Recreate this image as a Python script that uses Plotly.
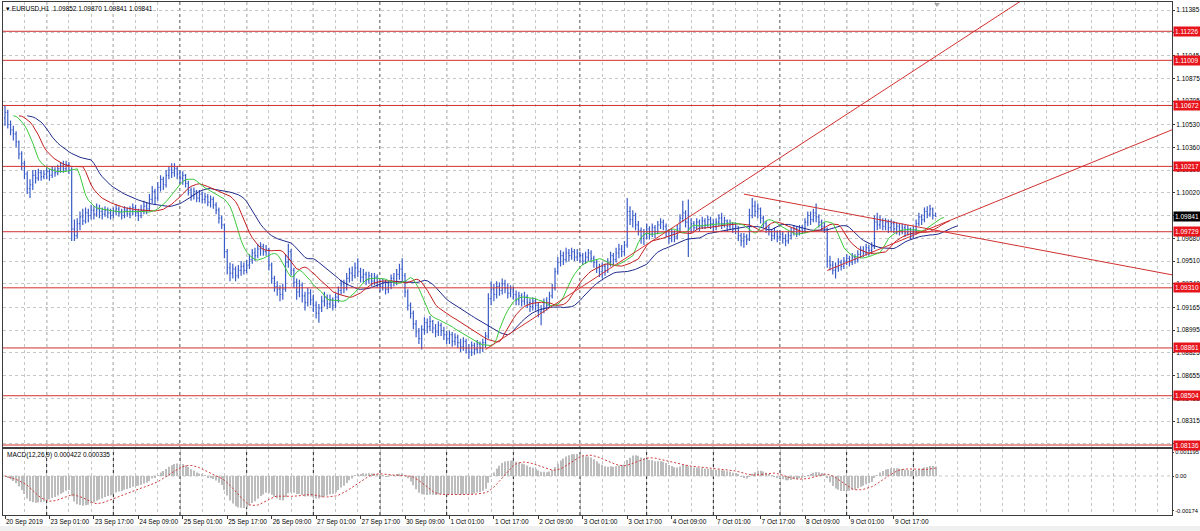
import numpy as np
import pandas as pd
import plotly.graph_objects as go

# ---------------- data (EURUSD H1) ----------------
start_time = "2019-09-20 09:00"

opens = [
    1.1058, 1.1062, 1.1053, 1.1049, 1.1046, 1.1040, 1.1031, 1.1024, 1.1016, 1.1005, 1.1008, 1.1015, 1.1013, 1.1017, 1.1014,
    1.1016, 1.1018, 1.1015, 1.1019, 1.1017, 1.1020, 1.1022, 1.1020, 1.1023, 1.1019, 1.0975, 1.0970, 1.0979, 1.0984, 1.0981, 1.0987, 1.0985, 1.0989, 1.0986, 1.0990, 1.0988, 1.0986, 1.0989, 1.0987,
    1.0985, 1.0988, 1.0990, 1.0987, 1.0985, 1.0989, 1.0986, 1.0988, 1.0991, 1.0987, 1.0985, 1.0989, 1.0992, 1.0990, 1.0997, 1.1003, 1.0998, 1.1006, 1.1012, 1.1008, 1.1015, 1.1019, 1.1017, 1.1020,
    1.1016, 1.1013, 1.1015, 1.1009, 1.1004, 1.1000, 1.1003, 1.0998, 1.1001, 1.0997, 1.0999, 1.0995, 1.0997, 1.0993, 1.0989, 1.0983, 1.0978, 1.0958, 1.0946, 1.0942, 1.0945, 1.0940, 1.0944, 1.0947,
    1.0944, 1.0948, 1.0952, 1.0957, 1.0955, 1.0960, 1.0962, 1.0958, 1.0960, 1.0948, 1.0938, 1.0932, 1.0930, 1.0926, 1.0930, 1.0950, 1.0958, 1.0944, 1.0935, 1.0928, 1.0933, 1.0925, 1.0920, 1.0927,
    1.0922, 1.0918, 1.0912, 1.0916, 1.0921, 1.0924, 1.0919, 1.0922, 1.0918, 1.0924, 1.0929, 1.0934, 1.0931, 1.0938, 1.0942, 1.0940, 1.0946, 1.0943, 1.0939, 1.0941, 1.0937, 1.0940, 1.0936, 1.0939,
    1.0935, 1.0932, 1.0935, 1.0930, 1.0933, 1.0938, 1.0936, 1.0941, 1.0945, 1.0940, 1.0928, 1.0918, 1.0912, 1.0904, 1.0898, 1.0893, 1.0900, 1.0905, 1.0902, 1.0906, 1.0901, 1.0898, 1.0903, 1.0899,
    1.0896, 1.0893, 1.0896, 1.0891, 1.0894, 1.0890, 1.0887, 1.0891, 1.0886, 1.0883, 1.0888, 1.0885, 1.0889, 1.0886, 1.0890, 1.0895, 1.0923, 1.0930, 1.0926, 1.0932, 1.0929, 1.0934, 1.0931, 1.0927,
    1.0930, 1.0926, 1.0922, 1.0925, 1.0921, 1.0924, 1.0920, 1.0917, 1.0921, 1.0918, 1.0913, 1.0915, 1.0920, 1.0918, 1.0925, 1.0931, 1.0943, 1.0950, 1.0955, 1.0952, 1.0957, 1.0955, 1.0958, 1.0954,
    1.0957, 1.0955, 1.0951, 1.0954, 1.0957, 1.0953, 1.0950, 1.0946, 1.0943, 1.0947, 1.0944, 1.0950, 1.0955, 1.0952, 1.0957, 1.0960, 1.0958, 1.0963, 1.0988, 1.0982, 1.0985, 1.0978, 1.0974, 1.0968,
    1.0971, 1.0975, 1.0971, 1.0976, 1.0973, 1.0978, 1.0980, 1.0977, 1.0973, 1.0968, 1.0972, 1.0969, 1.0975, 1.0983, 1.0987, 1.0980, 1.0976, 1.0979, 1.0976, 1.0980, 1.0977, 1.0981, 1.0978, 1.0982,
    1.0979, 1.0977, 1.0980, 1.0983, 1.0979, 1.0981, 1.0977, 1.0979, 1.0975, 1.0977, 1.0970, 1.0966, 1.0969, 1.0967, 1.0985, 1.0992, 1.0988, 1.0990, 1.0983, 1.0979, 1.0976, 1.0973, 1.0970, 1.0973,
    1.0969, 1.0971, 1.0968, 1.0966, 1.0970, 1.0973, 1.0975, 1.0972, 1.0976, 1.0974, 1.0980, 1.0985, 1.0982, 1.0987, 1.0984, 1.0980, 1.0977, 1.0975, 1.0951, 1.0948, 1.0944, 1.0946, 1.0950, 1.0947,
    1.0951, 1.0953, 1.0950, 1.0954, 1.0952, 1.0956, 1.0959, 1.0957, 1.0961, 1.0959, 1.0962, 1.0980, 1.0978, 1.0981, 1.0977, 1.0980, 1.0976, 1.0979, 1.0975, 1.0977, 1.0973, 1.0976, 1.0972, 1.0975,
    1.0971, 1.0974, 1.0979, 1.0984, 1.0982, 1.0988, 1.0986, 1.0990, 1.09852,
]
highs = [
    1.1067, 1.1064, 1.1056, 1.1052, 1.1048, 1.1041, 1.1033, 1.1026, 1.1018, 1.1012, 1.1019, 1.1019, 1.1020, 1.1019, 1.1019,
    1.1021, 1.1020, 1.1022, 1.1021, 1.1023, 1.1025, 1.1026, 1.1026, 1.1025, 1.1021, 1.0982, 1.0983, 1.0988, 1.0990, 1.0991, 1.0990, 1.0993, 1.0992, 1.0994, 1.0993, 1.0991, 1.0992, 1.0991, 1.0990,
    1.0991, 1.0993, 1.0992, 1.0990, 1.0992, 1.0991, 1.0992, 1.0994, 1.0993, 1.0990, 1.0993, 1.0996, 1.0995, 1.1001, 1.1007, 1.1005, 1.1010, 1.1015, 1.1014, 1.1019, 1.1022, 1.1024, 1.1024, 1.1022,
    1.1019, 1.1018, 1.1016, 1.1011, 1.1006, 1.1006, 1.1004, 1.1004, 1.1003, 1.1002, 1.1001, 1.1000, 1.0999, 1.0995, 1.0991, 1.0985, 1.0979, 1.0960, 1.0950, 1.0949, 1.0947, 1.0948, 1.0951, 1.0950,
    1.0952, 1.0956, 1.0960, 1.0961, 1.0964, 1.0965, 1.0964, 1.0963, 1.0961, 1.0950, 1.0940, 1.0936, 1.0933, 1.0934, 1.0956, 1.0964, 1.0960, 1.0946, 1.0938, 1.0937, 1.0935, 1.0928, 1.0931, 1.0930,
    1.0926, 1.0921, 1.0919, 1.0925, 1.0928, 1.0926, 1.0926, 1.0924, 1.0927, 1.0932, 1.0937, 1.0937, 1.0942, 1.0946, 1.0947, 1.0950, 1.0953, 1.0946, 1.0945, 1.0943, 1.0943, 1.0942, 1.0942, 1.0941,
    1.0937, 1.0938, 1.0937, 1.0936, 1.0941, 1.0942, 1.0945, 1.0949, 1.0953, 1.0942, 1.0930, 1.0920, 1.0914, 1.0907, 1.0901, 1.0903, 1.0909, 1.0908, 1.0910, 1.0907, 1.0904, 1.0906, 1.0905, 1.0902,
    1.0899, 1.0899, 1.0898, 1.0897, 1.0896, 1.0893, 1.0894, 1.0893, 1.0889, 1.0891, 1.0890, 1.0892, 1.0891, 1.0893, 1.0898, 1.0927, 1.0936, 1.0934, 1.0936, 1.0935, 1.0938, 1.0937, 1.0934, 1.0933,
    1.0932, 1.0929, 1.0928, 1.0927, 1.0928, 1.0926, 1.0923, 1.0924, 1.0923, 1.0920, 1.0918, 1.0923, 1.0924, 1.0928, 1.0934, 1.0946, 1.0954, 1.0959, 1.0958, 1.0961, 1.0960, 1.0961, 1.0960, 1.0960,
    1.0958, 1.0957, 1.0958, 1.0960, 1.0959, 1.0955, 1.0952, 1.0949, 1.0950, 1.0949, 1.0953, 1.0958, 1.0957, 1.0961, 1.0964, 1.0963, 1.0966, 1.0998, 1.0992, 1.0989, 1.0987, 1.0981, 1.0976, 1.0975,
    1.0979, 1.0977, 1.0979, 1.0978, 1.0981, 1.0983, 1.0982, 1.0979, 1.0975, 1.0975, 1.0974, 1.0978, 1.0986, 1.0996, 1.0989, 1.0997, 1.0983, 1.0981, 1.0983, 1.0982, 1.0984, 1.0983, 1.0985, 1.0984,
    1.0982, 1.0983, 1.0986, 1.0987, 1.0984, 1.0982, 1.0982, 1.0980, 1.0980, 1.0977, 1.0972, 1.0972, 1.0971, 1.0990, 1.0998, 1.0996, 1.0994, 1.0991, 1.0985, 1.0981, 1.0978, 1.0975, 1.0976, 1.0974,
    1.0974, 1.0973, 1.0971, 1.0973, 1.0976, 1.0978, 1.0977, 1.0978, 1.0978, 1.0983, 1.0988, 1.0988, 1.0990, 1.0994, 1.0986, 1.0982, 1.0980, 1.0976, 1.0955, 1.0951, 1.0950, 1.0953, 1.0952, 1.0954,
    1.0956, 1.0955, 1.0957, 1.0956, 1.0959, 1.0962, 1.0962, 1.0964, 1.0963, 1.0965, 1.0985, 1.0987, 1.0985, 1.0983, 1.0983, 1.0982, 1.0982, 1.0981, 1.0980, 1.0979, 1.0979, 1.0978, 1.0978, 1.0976,
    1.0977, 1.0982, 1.0987, 1.0986, 1.0991, 1.0992, 1.0993, 1.0991, 1.09870,
]
lows = [
    1.1052, 1.1050, 1.1045, 1.1041, 1.1036, 1.1027, 1.1019, 1.1012, 1.1001, 1.0998, 1.1004, 1.1009, 1.1011, 1.1011, 1.1012,
    1.1012, 1.1011, 1.1013, 1.1014, 1.1015, 1.1017, 1.1017, 1.1018, 1.1016, 1.0966, 1.0966, 1.0968, 1.0974, 1.0978, 1.0979, 1.0980, 1.0982, 1.0982, 1.0984, 1.0983, 1.0982, 1.0984, 1.0983, 1.0982,
    1.0983, 1.0985, 1.0984, 1.0982, 1.0983, 1.0984, 1.0983, 1.0985, 1.0984, 1.0981, 1.0983, 1.0986, 1.0986, 1.0988, 1.0994, 1.0993, 1.0996, 1.1003, 1.1004, 1.1006, 1.1012, 1.1013, 1.1014, 1.1012,
    1.1009, 1.1008, 1.1006, 1.1000, 1.0996, 1.0997, 1.0995, 1.0995, 1.0994, 1.0994, 1.0992, 1.0991, 1.0990, 1.0986, 1.0979, 1.0975, 1.0953, 1.0941, 1.0936, 1.0938, 1.0936, 1.0938, 1.0940, 1.0941,
    1.0942, 1.0945, 1.0949, 1.0951, 1.0953, 1.0955, 1.0955, 1.0955, 1.0944, 1.0934, 1.0928, 1.0925, 1.0921, 1.0922, 1.0928, 1.0946, 1.0940, 1.0931, 1.0922, 1.0924, 1.0920, 1.0914, 1.0917, 1.0918,
    1.0913, 1.0908, 1.0905, 1.0913, 1.0917, 1.0915, 1.0916, 1.0914, 1.0916, 1.0920, 1.0926, 1.0927, 1.0929, 1.0935, 1.0936, 1.0938, 1.0939, 1.0935, 1.0935, 1.0933, 1.0934, 1.0932, 1.0933, 1.0931,
    1.0928, 1.0929, 1.0926, 1.0927, 1.0930, 1.0932, 1.0933, 1.0937, 1.0936, 1.0924, 1.0914, 1.0908, 1.0900, 1.0894, 1.0889, 1.0885, 1.0896, 1.0897, 1.0899, 1.0897, 1.0894, 1.0895, 1.0895, 1.0892,
    1.0889, 1.0889, 1.0887, 1.0888, 1.0886, 1.0883, 1.0884, 1.0882, 1.0878, 1.0880, 1.0881, 1.0882, 1.0882, 1.0883, 1.0886, 1.0893, 1.0918, 1.0921, 1.0923, 1.0925, 1.0926, 1.0927, 1.0923, 1.0924,
    1.0922, 1.0918, 1.0918, 1.0917, 1.0918, 1.0916, 1.0913, 1.0914, 1.0914, 1.0909, 1.0903, 1.0912, 1.0914, 1.0916, 1.0923, 1.0929, 1.0941, 1.0947, 1.0948, 1.0950, 1.0951, 1.0952, 1.0951, 1.0951,
    1.0950, 1.0948, 1.0949, 1.0951, 1.0950, 1.0946, 1.0942, 1.0939, 1.0938, 1.0940, 1.0942, 1.0947, 1.0948, 1.0950, 1.0953, 1.0954, 1.0955, 1.0961, 1.0978, 1.0976, 1.0974, 1.0970, 1.0964, 1.0963,
    1.0967, 1.0967, 1.0969, 1.0968, 1.0971, 1.0975, 1.0974, 1.0969, 1.0964, 1.0965, 1.0965, 1.0967, 1.0973, 1.0980, 1.0976, 1.0954, 1.0972, 1.0973, 1.0974, 1.0973, 1.0975, 1.0975, 1.0976, 1.0975,
    1.0973, 1.0974, 1.0977, 1.0975, 1.0976, 1.0973, 1.0974, 1.0972, 1.0971, 1.0966, 1.0962, 1.0961, 1.0963, 1.0966, 1.0983, 1.0984, 1.0983, 1.0979, 1.0976, 1.0972, 1.0970, 1.0966, 1.0967, 1.0965,
    1.0966, 1.0964, 1.0962, 1.0964, 1.0967, 1.0970, 1.0969, 1.0970, 1.0971, 1.0972, 1.0977, 1.0978, 1.0980, 1.0980, 1.0976, 1.0974, 1.0972, 1.0946, 1.0944, 1.0941, 1.0938, 1.0943, 1.0944, 1.0945,
    1.0948, 1.0947, 1.0948, 1.0949, 1.0950, 1.0953, 1.0954, 1.0955, 1.0955, 1.0956, 1.0960, 1.0974, 1.0975, 1.0974, 1.0974, 1.0972, 1.0973, 1.0972, 1.0971, 1.0970, 1.0971, 1.0969, 1.0970, 1.0967,
    1.0968, 1.0971, 1.0977, 1.0978, 1.0980, 1.0983, 1.0984, 1.0982, 1.09841,
]
closes = [
    1.1062, 1.1053, 1.1049, 1.1046, 1.1040, 1.1031, 1.1024, 1.1016, 1.1005, 1.1008, 1.1015, 1.1013, 1.1017, 1.1014, 1.1016,
    1.1018, 1.1015, 1.1019, 1.1017, 1.1020, 1.1022, 1.1020, 1.1023, 1.1019, 1.0975, 1.0970, 1.0979, 1.0984, 1.0981, 1.0987, 1.0985, 1.0989, 1.0986, 1.0990, 1.0988, 1.0986, 1.0989, 1.0987, 1.0985,
    1.0988, 1.0990, 1.0987, 1.0985, 1.0989, 1.0986, 1.0988, 1.0991, 1.0987, 1.0985, 1.0989, 1.0992, 1.0990, 1.0997, 1.1003, 1.0998, 1.1006, 1.1012, 1.1008, 1.1015, 1.1019, 1.1017, 1.1020, 1.1016,
    1.1013, 1.1015, 1.1009, 1.1004, 1.1000, 1.1003, 1.0998, 1.1001, 1.0997, 1.0999, 1.0995, 1.0997, 1.0993, 1.0989, 1.0983, 1.0978, 1.0958, 1.0946, 1.0942, 1.0945, 1.0940, 1.0944, 1.0947, 1.0944,
    1.0948, 1.0952, 1.0957, 1.0955, 1.0960, 1.0962, 1.0958, 1.0960, 1.0948, 1.0938, 1.0932, 1.0930, 1.0926, 1.0930, 1.0950, 1.0958, 1.0944, 1.0935, 1.0928, 1.0933, 1.0925, 1.0920, 1.0927, 1.0922,
    1.0918, 1.0912, 1.0916, 1.0921, 1.0924, 1.0919, 1.0922, 1.0918, 1.0924, 1.0929, 1.0934, 1.0931, 1.0938, 1.0942, 1.0940, 1.0946, 1.0943, 1.0939, 1.0941, 1.0937, 1.0940, 1.0936, 1.0939, 1.0935,
    1.0932, 1.0935, 1.0930, 1.0933, 1.0938, 1.0936, 1.0941, 1.0945, 1.0940, 1.0928, 1.0918, 1.0912, 1.0904, 1.0898, 1.0893, 1.0900, 1.0905, 1.0902, 1.0906, 1.0901, 1.0898, 1.0903, 1.0899, 1.0896,
    1.0893, 1.0896, 1.0891, 1.0894, 1.0890, 1.0887, 1.0891, 1.0886, 1.0883, 1.0888, 1.0885, 1.0889, 1.0886, 1.0890, 1.0895, 1.0923, 1.0930, 1.0926, 1.0932, 1.0929, 1.0934, 1.0931, 1.0927, 1.0930,
    1.0926, 1.0922, 1.0925, 1.0921, 1.0924, 1.0920, 1.0917, 1.0921, 1.0918, 1.0913, 1.0915, 1.0920, 1.0918, 1.0925, 1.0931, 1.0943, 1.0950, 1.0955, 1.0952, 1.0957, 1.0955, 1.0958, 1.0954, 1.0957,
    1.0955, 1.0951, 1.0954, 1.0957, 1.0953, 1.0950, 1.0946, 1.0943, 1.0947, 1.0944, 1.0950, 1.0955, 1.0952, 1.0957, 1.0960, 1.0958, 1.0963, 1.0988, 1.0982, 1.0985, 1.0978, 1.0974, 1.0968, 1.0971,
    1.0975, 1.0971, 1.0976, 1.0973, 1.0978, 1.0980, 1.0977, 1.0973, 1.0968, 1.0972, 1.0969, 1.0975, 1.0983, 1.0987, 1.0980, 1.0976, 1.0979, 1.0976, 1.0980, 1.0977, 1.0981, 1.0978, 1.0982, 1.0979,
    1.0977, 1.0980, 1.0983, 1.0979, 1.0981, 1.0977, 1.0979, 1.0975, 1.0977, 1.0970, 1.0966, 1.0969, 1.0967, 1.0985, 1.0992, 1.0988, 1.0990, 1.0983, 1.0979, 1.0976, 1.0973, 1.0970, 1.0973, 1.0969,
    1.0971, 1.0968, 1.0966, 1.0970, 1.0973, 1.0975, 1.0972, 1.0976, 1.0974, 1.0980, 1.0985, 1.0982, 1.0987, 1.0984, 1.0980, 1.0977, 1.0975, 1.0951, 1.0948, 1.0944, 1.0946, 1.0950, 1.0947, 1.0951,
    1.0953, 1.0950, 1.0954, 1.0952, 1.0956, 1.0959, 1.0957, 1.0961, 1.0959, 1.0962, 1.0980, 1.0978, 1.0981, 1.0977, 1.0980, 1.0976, 1.0979, 1.0975, 1.0977, 1.0973, 1.0976, 1.0972, 1.0975, 1.0971,
    1.0974, 1.0979, 1.0984, 1.0982, 1.0988, 1.0986, 1.0990, 1.09852, 1.09841,
]
assert len(opens) == len(highs) == len(lows) == len(closes), (len(opens), len(highs), len(lows), len(closes))

price_ticks = [1.11385, 1.11215, 1.11045, 1.10875, 1.10705, 1.10530, 1.10360, 1.10190, 1.10020, 1.09850,
               1.09680, 1.09510, 1.09340, 1.09165, 1.08995, 1.08825, 1.08655, 1.08485, 1.08315, 1.08145]
levels = [1.11226, 1.11009, 1.10672, 1.10217, 1.09729, 1.09310, 1.08861, 1.08504, 1.08136]
last_price = 1.09841
# trend lines: (bar index, price) of two anchor points; drawn as rays to the right
trend_lines = [
    (173, 1.0885, 270, 1.1016),
    (296, 1.0944, 335, 1.0977),
    (266, 1.1001, 335, 1.0974),
]
macd_tickvals = [0.001195, 0.0, -0.00174]
macd_ticktext = ["0.001195", "0.00", "-0.00174"]
title_text = "\u25be EURUSD,H1  1.09852 1.09870 1.09841 1.09841"
macd_text = "MACD(12,26,9) 0.000422 0.000335"

# ---------------- derived series ----------------
n = len(closes)
idx = np.arange(n)
hrs = pd.date_range(start_time, periods=24 * 30, freq="h")
times = hrs[hrs.weekday < 5][:n]
label_idx = list(range(0, n, 16))
label_txt = [(f"{times[i].day} {times[i].strftime('%b %Y')}" if i == 0 else f"{times[i].day} {times[i].strftime('%b %H:%M')}") for i in label_idx]
sep_idx = [int(i) for i in idx if times[i].hour == 0]

H_ = np.array(highs); L_ = np.array(lows)
median = (H_ + L_) / 2


def smma(src, p):
    out = np.empty_like(src)
    out[0] = src[0]
    for k in range(1, len(src)):
        out[k] = (out[k - 1] * (p - 1) + src[k]) / p
    return out


jaw = smma(median, 13); teeth = smma(median, 8); lips = smma(median, 5)
cs = pd.Series(closes)
macd = cs.ewm(span=12, adjust=False).mean() - cs.ewm(span=26, adjust=False).mean()
signal = macd.rolling(9, min_periods=1).mean()

# ---------------- layout geometry (pixels) ----------------
W, Hh = 1200, 531
BAR_PX = 66.667 / 24.0
X0_PX = 5.0
PLOT_L, PLOT_R = 3, 1172
MAIN_T, MAIN_B = 2, 447
MACD_T, MACD_B = 449, 515
PPU = 13389.0  # pixels per price unit
REF_P, REF_Y = 1.11385, 10.0
MACD_ZERO_Y, MACD_PPU = 476.0, 1.0 / 0.0000498


def fx(px):
    return px / W


def fy(py):
    return 1 - py / Hh


x_range = [(PLOT_L - X0_PX) / BAR_PX, (PLOT_R - X0_PX) / BAR_PX]
y_range = [REF_P - (MAIN_B - REF_Y) / PPU, REF_P + (REF_Y - MAIN_T) / PPU]
y2_range = [-(MACD_B - MACD_ZERO_Y) / MACD_PPU, (MACD_ZERO_Y - MACD_T) / MACD_PPU]
grid_idx = list(range(7, int(x_range[1]) + 8, 8))

FONT = "Tahoma, Liberation Sans, Arial, sans-serif"
FS = 6.5
BLUE = "#3a5cc8"
GRID = "#c6c6c6"
LEVEL = "#d23030"

fig = go.Figure()
fig.add_trace(go.Ohlc(x=idx, open=opens, high=highs, low=lows, close=closes,
                      increasing_line_color=BLUE, decreasing_line_color=BLUE,
                      line_width=1.2, tickwidth=0.35, xaxis="x", yaxis="y", hoverinfo="skip"))
fig.add_trace(go.Scatter(x=idx + 8, y=jaw, mode="lines", line=dict(color="#1f2b8a", width=1), xaxis="x", yaxis="y", hoverinfo="skip"))
fig.add_trace(go.Scatter(x=idx + 5, y=teeth, mode="lines", line=dict(color="#c41e1e", width=1), xaxis="x", yaxis="y", hoverinfo="skip"))
fig.add_trace(go.Scatter(x=idx + 3, y=lips, mode="lines", line=dict(color="#3cc83c", width=1), xaxis="x", yaxis="y", hoverinfo="skip"))

for (i1, p1, i2, p2) in trend_lines:
    slope = (p2 - p1) / (i2 - i1)
    xe = x_range[1] + 20
    fig.add_trace(go.Scatter(x=[i1, xe], y=[p1, p1 + slope * (xe - i1)], mode="lines",
                             line=dict(color=LEVEL, width=1), xaxis="x", yaxis="y", hoverinfo="skip"))

fig.add_trace(go.Bar(x=idx, y=macd, width=0.4, marker=dict(color="#bdbdbd", line_width=0),
                     xaxis="x2", yaxis="y2", hoverinfo="skip"))
fig.add_trace(go.Scatter(x=idx, y=signal, mode="lines", line=dict(color="#d03c3c", width=1, dash="2px,2px"),
                         xaxis="x2", yaxis="y2", hoverinfo="skip"))

shapes = []
shapes.append(dict(type="rect", xref="paper", yref="paper", x0=0, x1=1, y0=0, y1=fy(526),
                   fillcolor="#f0f0f0", line_width=0, layer="below"))
for s in sep_idx:
    shapes.append(dict(type="line", xref="x", yref="paper", x0=s, x1=s, y0=fy(MACD_B), y1=fy(MAIN_T),
                       line=dict(color="#1a1a1a", width=1, dash="3px,3px"), layer="below"))
for lv in levels:
    shapes.append(dict(type="line", xref="x domain", yref="y", x0=0, x1=1, y0=lv, y1=lv,
                       line=dict(color=LEVEL, width=1), layer="above"))
shapes.append(dict(type="line", xref="x2 domain", yref="y2", x0=0, x1=1, y0=0, y1=0,
                   line=dict(color=GRID, width=1, dash="3px,3px"), layer="below"))
shapes.append(dict(type="path", xref="paper", yref="paper",
                   path=f"M {fx(934)} {fy(3)} L {fx(940)} {fy(3)} L {fx(937)} {fy(7)} Z",
                   fillcolor="#a8a8a8", line_width=0))

ann = []
ann.append(dict(text=title_text, xref="paper", yref="paper", x=fx(4), y=fy(8), xanchor="left", yanchor="middle",
                showarrow=False, font=dict(family=FONT, size=FS, color="#000")))
ann.append(dict(text=macd_text, xref="paper", yref="paper", x=fx(5), y=fy(455), xanchor="left", yanchor="middle",
                showarrow=False, font=dict(family=FONT, size=FS, color="#000")))
for lv in levels:
    ann.append(dict(text=f"{lv:.5f}", xref="paper", yref="y", x=fx(PLOT_R + 1), y=lv, xanchor="left", yanchor="middle",
                    showarrow=False, bgcolor="#e8141c", borderpad=1, width=26, align="left",
                    font=dict(family=FONT, size=FS, color="#ffffff")))
ann.append(dict(text=f"{last_price:.5f}", xref="paper", yref="y", x=fx(PLOT_R + 1), y=last_price, xanchor="left",
                yanchor="middle", showarrow=False, bgcolor="#000000", borderpad=1, width=26, align="left",
                font=dict(family=FONT, size=FS, color="#ffffff")))

axis_font = dict(family=FONT, size=FS, color="#000")
fig.update_layout(
    width=W, height=Hh, margin=dict(l=0, r=0, t=0, b=0, autoexpand=False),
    paper_bgcolor="#ffffff", plot_bgcolor="#ffffff", showlegend=False,
    shapes=shapes, annotations=ann,
    xaxis=dict(domain=[fx(PLOT_L), fx(PLOT_R)], range=x_range, tickmode="array", tickvals=grid_idx,
               showticklabels=False, ticks="", showgrid=True, gridcolor=GRID, griddash="3px,3px", gridwidth=1,
               zeroline=False, showline=True, mirror=True, linecolor="#3c3c3c", linewidth=1,
               rangeslider=dict(visible=False), anchor="y", fixedrange=True, automargin=False),
    yaxis=dict(domain=[fy(MAIN_B), fy(MAIN_T)], range=y_range, side="right", tickmode="array",
               tickvals=price_ticks, ticktext=[f"{v:.5f}" for v in price_ticks], tickfont=axis_font,
               ticks="outside", ticklen=2, tickcolor="#3c3c3c", showgrid=True, gridcolor=GRID,
               griddash="3px,3px", gridwidth=1, zeroline=False, showline=True, mirror=True,
               linecolor="#3c3c3c", linewidth=1, anchor="x", fixedrange=True, automargin=False),
    xaxis2=dict(domain=[fx(PLOT_L), fx(PLOT_R)], range=x_range, matches="x", tickmode="array",
                tickvals=label_idx, ticktext=label_txt, ticklabelposition="outside right", tickfont=axis_font,
                tickangle=0, ticks="outside", ticklen=3, tickcolor="#3c3c3c", showgrid=False,
                minor=dict(tickmode="array", tickvals=grid_idx, showgrid=True, gridcolor=GRID,
                           griddash="3px,3px", gridwidth=1, ticks=""),
                zeroline=False, showline=True, mirror=True, linecolor="#3c3c3c", linewidth=1,
                anchor="y2", fixedrange=True, automargin=False),
    yaxis2=dict(domain=[fy(MACD_B), fy(MACD_T)], range=y2_range, side="right", tickmode="array",
                tickvals=macd_tickvals, ticktext=macd_ticktext, tickfont=dict(family=FONT, size=5.8, color="#000"),
                ticks="outside", ticklen=1, tickcolor="#3c3c3c", showgrid=False, zeroline=False, showline=True,
                mirror=True, linecolor="#3c3c3c", linewidth=1, anchor="x2", fixedrange=True, automargin=False),
)
fig.write_html("out.html", config={"displayModeBar": False},
               post_script="document.body.style.margin='0';document.body.style.overflow='hidden';")
